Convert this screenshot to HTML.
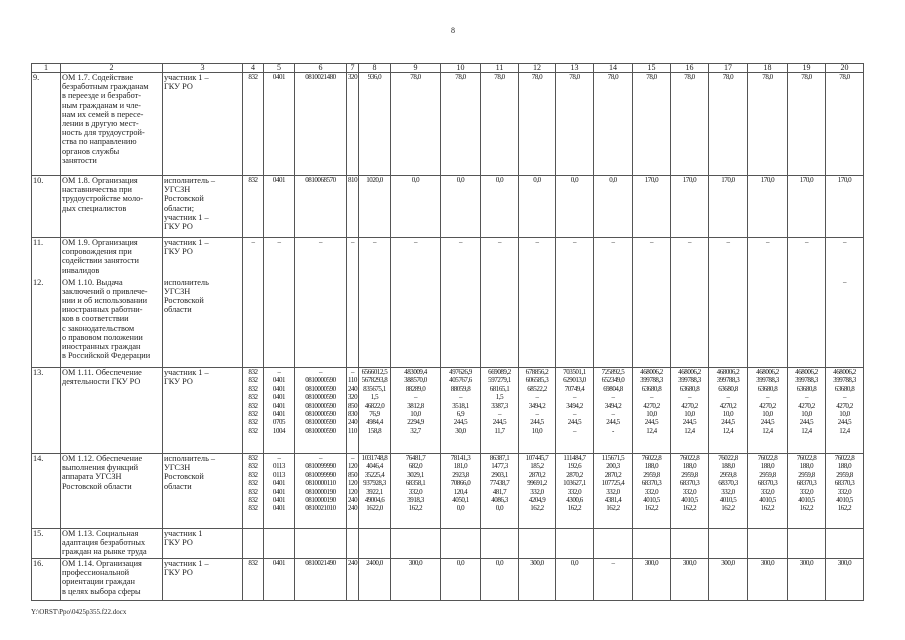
<!DOCTYPE html>
<html><head><meta charset="utf-8"><style>
body{margin:0;width:905px;height:640px;background:#fff;position:relative;overflow:hidden;font-family:"Liberation Serif","DejaVu Serif",serif;color:#222}
table{position:absolute;left:31px;top:63px;border-collapse:collapse;table-layout:fixed;width:832px}
td{border:1px solid #555;padding:0 1px;vertical-align:top;font-size:8.3px;line-height:9.2px;overflow:hidden;white-space:nowrap}
td.n{text-align:center;font-size:7px;letter-spacing:-0.45px;line-height:8.4px;color:#111}
tr.h td{text-align:center;line-height:8px;height:8px;font-size:8px}
.pg{position:absolute;left:451px;top:26px;font-size:8px}
.ft{position:absolute;left:31px;top:608px;font-size:7px}
</style></head><body>
<div class="pg">8</div>
<table>
<colgroup><col style="width:29px"><col style="width:102px"><col style="width:80px"><col style="width:21px"><col style="width:31px"><col style="width:52px"><col style="width:12px"><col style="width:32px"><col style="width:50px"><col style="width:40px"><col style="width:38px"><col style="width:37px"><col style="width:38px"><col style="width:39px"><col style="width:38px"><col style="width:38px"><col style="width:39px"><col style="width:40px"><col style="width:38px"><col style="width:38px"></colgroup>
<tr class="h"><td>1</td><td>2</td><td>3</td><td>4</td><td>5</td><td>6</td><td>7</td><td>8</td><td>9</td><td>10</td><td>11</td><td>12</td><td>13</td><td>14</td><td>15</td><td>16</td><td>17</td><td>18</td><td>19</td><td>20</td></tr>
<tr style="height:103px"><td>9.</td><td>ОМ 1.7. Содействие<br>безработным гражданам<br>в переезде и безработ-<br>ным гражданам и чле-<br>нам их семей в пересе-<br>лении в другую мест-<br>ность для трудоустрой-<br>ства по направлению<br>органов службы<br>занятости</td><td>участник 1 –<br>ГКУ РО</td><td class="n">832</td><td class="n">0401</td><td class="n">0810021480</td><td class="n">320</td><td class="n">936,0</td><td class="n">78,0</td><td class="n">78,0</td><td class="n">78,0</td><td class="n">78,0</td><td class="n">78,0</td><td class="n">78,0</td><td class="n">78,0</td><td class="n">78,0</td><td class="n">78,0</td><td class="n">78,0</td><td class="n">78,0</td><td class="n">78,0</td></tr>
<tr style="height:62px"><td>10.</td><td>ОМ 1.8. Организация<br>наставничества при<br>трудоустройстве моло-<br>дых специалистов</td><td>исполнитель –<br>УГСЗН<br>Ростовской<br>области;<br>участник 1 –<br>ГКУ РО</td><td class="n">832</td><td class="n">0401</td><td class="n">0810068570</td><td class="n">810</td><td class="n">1020,0</td><td class="n">0,0</td><td class="n">0,0</td><td class="n">0,0</td><td class="n">0,0</td><td class="n">0,0</td><td class="n">0,0</td><td class="n">170,0</td><td class="n">170,0</td><td class="n">170,0</td><td class="n">170,0</td><td class="n">170,0</td><td class="n">170,0</td></tr>
<tr style="height:40px"><td style="border-bottom:none">11.</td><td style="border-bottom:none">ОМ 1.9. Организация<br>сопровождения при<br>содействии занятости<br>инвалидов</td><td style="border-bottom:none">участник 1 –<br>ГКУ РО</td><td class="n" style="border-bottom:none">–</td><td class="n" style="border-bottom:none">–</td><td class="n" style="border-bottom:none">–</td><td class="n" style="border-bottom:none">–</td><td class="n" style="border-bottom:none">–</td><td class="n" style="border-bottom:none">–</td><td class="n" style="border-bottom:none">–</td><td class="n" style="border-bottom:none">–</td><td class="n" style="border-bottom:none">–</td><td class="n" style="border-bottom:none">–</td><td class="n" style="border-bottom:none">–</td><td class="n" style="border-bottom:none">–</td><td class="n" style="border-bottom:none">–</td><td class="n" style="border-bottom:none">–</td><td class="n" style="border-bottom:none">–</td><td class="n" style="border-bottom:none">–</td><td class="n" style="border-bottom:none">–</td></tr>
<tr style="height:90px"><td style="border-top:none">12.</td><td style="border-top:none">ОМ 1.10. Выдача<br>заключений о привлече-<br>нии и об использовании<br>иностранных работни-<br>ков в соответствии<br>с законодательством<br>о правовом положении<br>иностранных граждан<br>в Российской Федерации</td><td style="border-top:none">исполнитель<br>УГСЗН<br>Ростовской<br>области</td><td style="border-top:none"></td><td style="border-top:none"></td><td style="border-top:none"></td><td style="border-top:none"></td><td style="border-top:none"></td><td style="border-top:none"></td><td style="border-top:none"></td><td style="border-top:none"></td><td style="border-top:none"></td><td style="border-top:none"></td><td style="border-top:none"></td><td style="border-top:none"></td><td style="border-top:none"></td><td style="border-top:none"></td><td style="border-top:none"></td><td style="border-top:none"></td><td class="n" style="border-top:none">–</td></tr>
<tr style="height:86px"><td>13.</td><td>ОМ 1.11. Обеспечение<br>деятельности ГКУ РО</td><td>участник 1 –<br>ГКУ РО</td>
<td class="n">832<br>832<br>832<br>832<br>832<br>832<br>832<br>832</td>
<td class="n">–<br>0401<br>0401<br>0401<br>0401<br>0401<br>0705<br>1004</td>
<td class="n">–<br>0810000590<br>0810000590<br>0810000590<br>0810000590<br>0810000590<br>0810000590<br>0810000590</td>
<td class="n">–<br>110<br>240<br>320<br>850<br>830<br>240<br>110</td>
<td class="n">6566012,5<br>5678293,8<br>835675,1<br>1,5<br>46822,0<br>76,9<br>4984,4<br>158,8</td>
<td class="n">483009,4<br>388570,0<br>88289,0<br>–<br>3812,8<br>10,0<br>2294,9<br>32,7</td>
<td class="n">497626,9<br>405767,6<br>88059,8<br>–<br>3518,1<br>6,9<br>244,5<br>30,0</td>
<td class="n">669089,2<br>597279,1<br>68165,1<br>1,5<br>3387,3<br>–<br>244,5<br>11,7</td>
<td class="n">678856,2<br>606585,3<br>68522,2<br>–<br>3494,2<br>–<br>244,5<br>10,0</td>
<td class="n">703501,1<br>629013,0<br>70749,4<br>–<br>3494,2<br>–<br>244,5<br>–</td>
<td class="n">725892,5<br>652349,0<br>69804,8<br>–<br>3494,2<br>–<br>244,5<br>-</td>
<td class="n">468006,2<br>399788,3<br>63680,8<br>–<br>4270,2<br>10,0<br>244,5<br>12,4</td>
<td class="n">468006,2<br>399788,3<br>63680,8<br>–<br>4270,2<br>10,0<br>244,5<br>12,4</td>
<td class="n">468006,2<br>399788,3<br>63680,8<br>–<br>4270,2<br>10,0<br>244,5<br>12,4</td>
<td class="n">468006,2<br>399788,3<br>63680,8<br>–<br>4270,2<br>10,0<br>244,5<br>12,4</td>
<td class="n">468006,2<br>399788,3<br>63680,8<br>–<br>4270,2<br>10,0<br>244,5<br>12,4</td>
<td class="n">468006,2<br>399788,3<br>63680,8<br>–<br>4270,2<br>10,0<br>244,5<br>12,4</td></tr>
<tr style="height:75px"><td>14.</td><td>ОМ 1.12. Обеспечение<br>выполнения функций<br>аппарата УГСЗН<br>Ростовской области</td><td>исполнитель –<br>УГСЗН<br>Ростовской<br>области</td>
<td class="n">832<br>832<br>832<br>832<br>832<br>832<br>832</td>
<td class="n">–<br>0113<br>0113<br>0401<br>0401<br>0401<br>0401</td>
<td class="n">–<br>0810099990<br>0810099990<br>0810000110<br>0810000190<br>0810000190<br>0810021010</td>
<td class="n">–<br>120<br>850<br>120<br>120<br>240<br>240</td>
<td class="n">1031748,8<br>4046,4<br>35225,4<br>937928,3<br>3922,1<br>49004,6<br>1622,0</td>
<td class="n">76481,7<br>682,0<br>3029,1<br>68358,1<br>332,0<br>3918,3<br>162,2</td>
<td class="n">78141,3<br>181,0<br>2923,8<br>70866,0<br>120,4<br>4050,1<br>0,0</td>
<td class="n">86387,1<br>1477,3<br>2903,1<br>77438,7<br>481,7<br>4086,3<br>0,0</td>
<td class="n">107445,7<br>185,2<br>2870,2<br>99691,2<br>332,0<br>4204,9<br>162,2</td>
<td class="n">111484,7<br>192,6<br>2870,2<br>103627,1<br>332,0<br>4300,6<br>162,2</td>
<td class="n">115671,5<br>200,3<br>2870,2<br>107725,4<br>332,0<br>4381,4<br>162,2</td>
<td class="n">76022,8<br>188,0<br>2959,8<br>68370,3<br>332,0<br>4010,5<br>162,2</td>
<td class="n">76022,8<br>188,0<br>2959,8<br>68370,3<br>332,0<br>4010,5<br>162,2</td>
<td class="n">76022,8<br>188,0<br>2959,8<br>68370,3<br>332,0<br>4010,5<br>162,2</td>
<td class="n">76022,8<br>188,0<br>2959,8<br>68370,3<br>332,0<br>4010,5<br>162,2</td>
<td class="n">76022,8<br>188,0<br>2959,8<br>68370,3<br>332,0<br>4010,5<br>162,2</td>
<td class="n">76022,8<br>188,0<br>2959,8<br>68370,3<br>332,0<br>4010,5<br>162,2</td></tr>
<tr style="height:30px"><td>15.</td><td>ОМ 1.13. Социальная<br>адаптация безработных<br>граждан на рынке труда</td><td>участник 1<br>ГКУ РО</td><td></td><td></td><td></td><td></td><td></td><td></td><td></td><td></td><td></td><td></td><td></td><td></td><td></td><td></td><td></td><td></td><td></td></tr>
<tr style="height:42px"><td>16.</td><td>ОМ 1.14. Организация<br>профессиональной<br>ориентации граждан<br>в целях выбора сферы</td><td>участник 1 –<br>ГКУ РО</td><td class="n">832</td><td class="n">0401</td><td class="n">0810021490</td><td class="n">240</td><td class="n">2400,0</td><td class="n">300,0</td><td class="n">0,0</td><td class="n">0,0</td><td class="n">300,0</td><td class="n">0,0</td><td class="n">–</td><td class="n">300,0</td><td class="n">300,0</td><td class="n">300,0</td><td class="n">300,0</td><td class="n">300,0</td><td class="n">300,0</td></tr>
</table>
<div class="ft">Y:\ORST\Ppo\0425p355.f22.docx</div>
</body></html>
